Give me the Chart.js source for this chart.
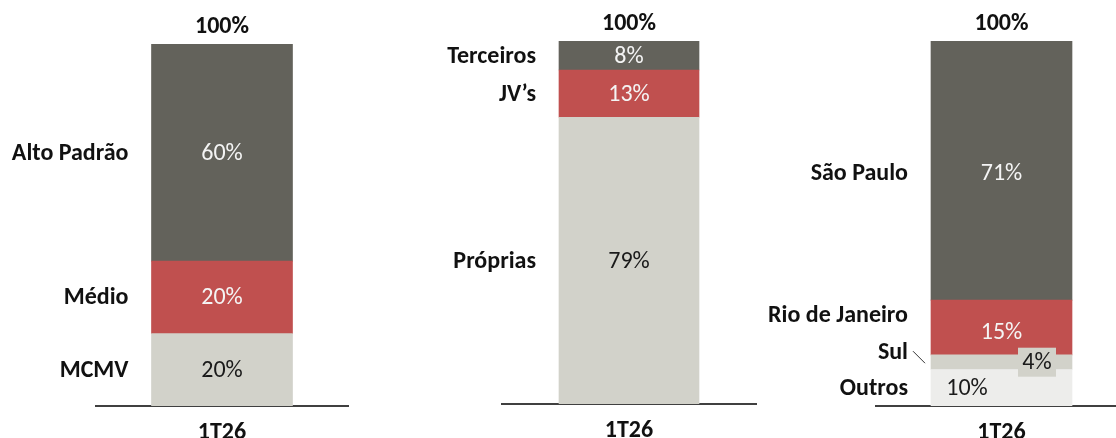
<!DOCTYPE html>
<html>
<head>
<meta charset="utf-8">
<script src="https://cdn.jsdelivr.net/npm/chart.js@4/dist/chart.umd.min.js"></script>
<style>
  html, body { margin:0; padding:0; width:1116px; height:438px; overflow:hidden; background:#ffffff; }
  canvas { position:absolute; top:0; }
</style>
</head>
<body>
<canvas id="c1" width="372" height="438" style="left:0px"></canvas>
<canvas id="c2" width="388" height="438" style="left:372px"></canvas>
<canvas id="c3" width="390" height="438" style="left:750px"></canvas>
<script>
// ---- data ----
const categories = ['1T26'];
const totalLabel = '100%';

const padraoLabels = ['MCMV', 'Médio', 'Alto Padrão'];
const padraoValues = [20, 20, 60];

const origemLabels = ['Próprias', 'JV’s', 'Terceiros'];
const origemValues = [79, 13, 8];

const regiaoLabels = ['Outros', 'Sul', 'Rio de Janeiro', 'São Paulo'];
const regiaoValues = [10, 4, 15, 71];

// ---- styles ----
const DARK = '#63625B', RED = '#C0504F', BEIGE = '#D2D2CA', PALE = '#EDEDEB';
const FONT = 'Carlito, Calibri, Lato, sans-serif';
const FS = 24;

const segLabels = {
  id: 'segLabels',
  afterDatasetsDraw(chart) {
    const cfg = chart.options.plugins.segLabels;
    const ctx = chart.ctx;
    const xs = chart.scales.x, ys = chart.scales.y;
    ctx.save();
    ctx.textBaseline = 'middle';
    let barX = 0;
    chart.data.datasets.forEach((ds, i) => {
      const bar = chart.getDatasetMeta(i).data[0];
      const p = bar.getProps(['x', 'y', 'base', 'width'], true);
      const left = p.x - p.width / 2, right = p.x + p.width / 2;
      const mid = (p.y + p.base) / 2;
      barX = p.x;
      const s = cfg.seg[i] || {};
      // value label
      let vx = p.x;
      if (s.valueFromLeft !== undefined) vx = left + s.valueFromLeft;
      if (s.valueFromRight !== undefined) vx = right - s.valueFromRight;
      const vy = mid + 1 + (s.valueDy || 0);
      const txt = ds.data[0] + '%';
      ctx.font = FS + 'px ' + FONT;
      if (s.box) {
        ctx.fillStyle = s.box.color;
        ctx.fillRect(vx - s.box.w / 2, vy - s.box.h / 2 - 1, s.box.w, s.box.h);
      }
      ctx.fillStyle = s.textColor;
      ctx.textAlign = 'center';
      ctx.fillText(txt, vx, vy);
      // category label
      const ly = mid + 1 + (s.labelDy || 0);
      ctx.font = 'bold ' + FS + 'px ' + FONT;
      ctx.fillStyle = '#111111';
      ctx.textAlign = 'right';
      ctx.fillText(ds.label, left - 23, ly);
      if (s.leader) {
        ctx.strokeStyle = '#333333';
        ctx.lineWidth = 1;
        ctx.beginPath();
        ctx.moveTo(left - 18, ly - 2);
        ctx.lineTo(left - 6, ly + 10);
        ctx.stroke();
      }
    });
    // total on top
    ctx.font = 'bold ' + FS + 'px ' + FONT;
    ctx.fillStyle = '#111111';
    ctx.textAlign = 'center';
    ctx.fillText(totalLabel, barX, ys.getPixelForValue(100) - 17);
    // category tick
    ctx.fillText(chart.data.labels[0], xs.getPixelForValue(0), xs.bottom + 27);
    ctx.restore();
  }
};

function makeChart(id, labels, values, colors, seg, pad, thickness) {
  const datasets = labels.map((lab, i) => ({
    label: lab,
    data: [values[i]],
    backgroundColor: colors[i],
    borderWidth: 0,
    barThickness: thickness
  }));
  return new Chart(document.getElementById(id), {
    type: 'bar',
    data: { labels: categories, datasets },
    options: {
      responsive: false,
      animation: false,
      layout: { padding: pad },
      plugins: { legend: { display: false }, tooltip: { enabled: false }, segLabels: { seg } },
      scales: {
        x: {
          stacked: true,
          grid: { display: false, drawTicks: false },
          ticks: { display: false },
          border: { display: true, color: '#404040', width: 2 }
        },
        y: { stacked: true, display: false, min: 0, max: 100 }
      }
    },
    plugins: [segLabels]
  });
}

const W = '#F4F4F4', B = '#1A1A1A';

makeChart('c1', padraoLabels, padraoValues, [BEIGE, RED, DARK],
  [{ textColor: B }, { textColor: W }, { textColor: W }],
  { left: 96, right: 24, top: 44, bottom: 32 }, 141);

makeChart('c2', origemLabels, origemValues, [BEIGE, RED, DARK],
  [{ textColor: B }, { textColor: W }, { textColor: W }],
  { left: 130, right: 4, top: 41, bottom: 34 }, 140);

makeChart('c3', regiaoLabels, regiaoValues, [PALE, BEIGE, RED, DARK],
  [
    { textColor: B, valueFromLeft: 36 },
    { textColor: B, valueFromRight: 35, labelDy: -10, leader: true, box: { color: BEIGE, w: 38, h: 29 } },
    { textColor: W, valueDy: 4, labelDy: -13 },
    { textColor: W, valueDy: 2, labelDy: 2 }
  ],
  { left: 126, right: 13, top: 41, bottom: 32 }, 141);
</script>
</body>
</html>
